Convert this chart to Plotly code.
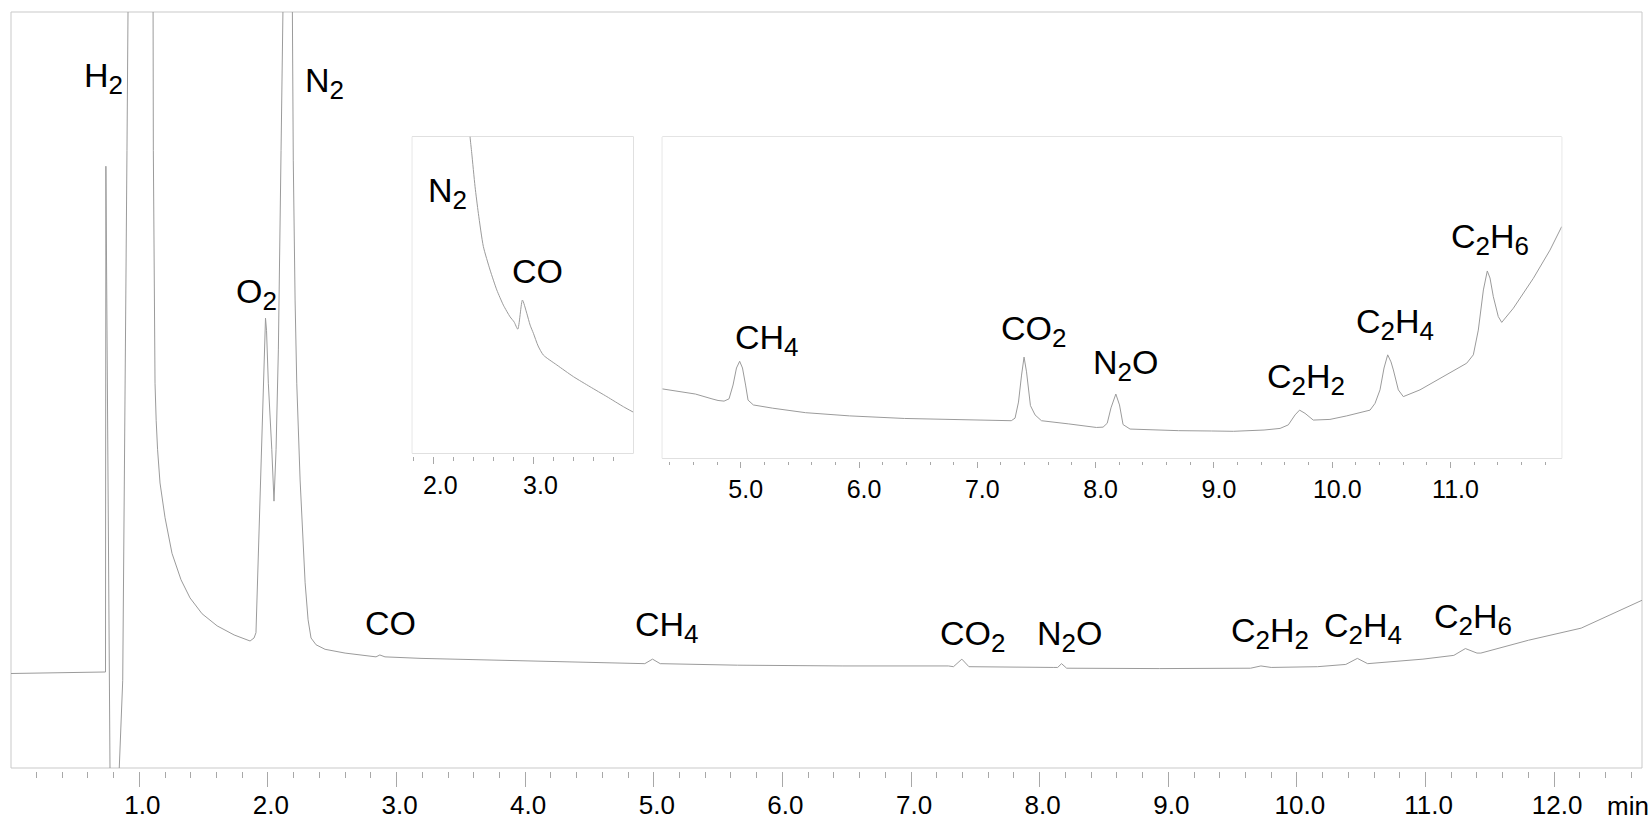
import plotly.graph_objects as go

# ---------------- data (retention time in min, detector signal in % of panel height) -------------
main_time = [0.0, 0.40, 0.737, 0.740, 0.753, 0.772, 0.79, 0.81, 0.844, 0.871, 0.904, 0.912, 1.005,
             1.107, 1.109, 1.122, 1.131, 1.142, 1.161, 1.180, 1.200, 1.254, 1.324, 1.394, 1.488, 1.605,
             1.737, 1.861,
             1.892, 1.907, 1.925, 1.946, 1.964, 1.977, 1.981, 1.989, 2.003, 2.030, 2.047, 2.063, 2.081,
             2.102, 2.110, 2.149, 2.190, 2.197, 2.211, 2.224, 2.250, 2.273, 2.289, 2.312, 2.335, 2.374,
             2.444, 2.60, 2.77, 2.84, 2.87, 2.91, 3.19, 4.02, 4.83, 4.93, 4.99, 5.05, 5.65, 6.47, 7.29,
             7.33, 7.395, 7.45, 8.11, 8.14, 8.17, 8.21, 8.93, 9.64, 9.72, 9.80, 10.16, 10.38, 10.47,
             10.55, 10.98, 11.22, 11.31, 11.40, 11.43, 11.80, 12.21, 12.685]
main_signal = [12.5, 12.6, 12.7, 79.6, 48.7, 0.0, -4.0, -6.0, 0.0, 11.6, 81.7, 100.0, 141.0,
               100.0, 81.7, 50.9, 46.0, 42.1, 37.7, 35.1, 33.1, 28.4, 24.9, 22.5, 20.4, 18.8,
               17.6, 16.8,
               17.2, 17.9, 27.5, 39.4, 50.9, 57.9, 59.5, 57.9, 50.9, 42.1, 35.3, 42.1, 55.3,
               81.7, 100.0, 141.0, 100.0, 80.4, 61.9, 50.9, 38.1, 28.8, 24.5, 19.6, 17.2, 16.3,
               15.7, 15.2, 14.8, 14.7, 14.95, 14.7, 14.5, 14.2, 13.9, 13.8, 14.4, 13.8, 13.6, 13.5, 13.5,
               13.4, 14.4, 13.4, 13.3, 13.3, 13.8, 13.2, 13.15, 13.2, 13.5, 13.3, 13.4, 13.7, 14.5,
               13.8, 14.4, 14.9, 15.8, 15.2, 15.2, 16.9, 18.5, 22.2]

inset1_time = [2.362, 2.367, 2.384, 2.417, 2.450, 2.500, 2.567, 2.634, 2.700, 2.767, 2.807, 2.844,
               2.890, 2.934, 2.967, 3.000, 3.047, 3.100, 3.234, 3.400, 3.567, 3.734, 3.900, 3.998]
inset1_signal = [103.7, 100.0, 94.8, 84.2, 75.8, 65.3, 57.9, 51.6, 46.8, 43.1, 41.5, 39.2,
                 48.4, 44.2, 40.5, 37.9, 33.9, 31.0, 27.9, 24.2, 21.0, 17.9, 14.7, 13.0]

inset2_time = [4.337, 4.487, 4.617, 4.757, 4.808, 4.859, 4.901, 4.935, 4.964, 4.991, 5.015, 5.041,
               5.062, 5.107, 5.270, 5.548, 5.919, 6.383, 6.846, 7.287, 7.319, 7.348, 7.374, 7.395,
               7.416, 7.449, 7.488, 7.542, 7.773, 8.006, 8.063, 8.098, 8.130, 8.171, 8.202, 8.232,
               8.291, 8.536, 8.702, 8.981, 9.165, 9.424, 9.559, 9.629, 9.686, 9.724, 9.770, 9.840,
               9.981, 10.123, 10.320, 10.362, 10.404, 10.438, 10.469, 10.497, 10.517, 10.559, 10.601,
               10.742, 10.968, 11.137, 11.193, 11.235, 11.278, 11.311, 11.334, 11.362, 11.404, 11.433,
               11.531, 11.700, 11.841, 11.940]
inset2_signal = [21.6, 20.8, 20.0, 18.5, 18.0, 17.8, 18.5, 22.8, 28.1, 30.2, 28.1, 22.8,
                 18.1, 16.6, 15.6, 14.2, 13.2, 12.4, 12.1, 11.7, 12.5, 17.5, 25.9, 31.5,
                 26.9, 16.4, 13.5, 11.7, 10.7, 9.6, 9.7, 10.9, 15.7, 20.0, 16.6, 10.5,
                 9.1, 8.8, 8.6, 8.5, 8.4, 8.8, 9.3, 10.4, 13.5, 15.0, 14.0, 11.9,
                 12.1, 13.2, 15.0, 17.1, 21.3, 28.1, 32.2, 30.0, 27.5, 21.3, 19.2,
                 21.3, 25.9, 29.6, 32.2, 39.9, 52.4, 58.3, 56.1, 50.3, 44.1, 42.3,
                 46.7, 56.0, 64.8, 72.1]

# peak labels: digits after "_" are subscripts
main_labels = ["H_2", "O_2", "N_2", "CO", "CH_4", "CO_2", "N_2O", "C_2H_2", "C_2H_4", "C_2H_6"]
main_label_t = [0.725, 1.913, 2.438, 2.956, 5.100, 7.479, 8.233, 9.789, 10.512, 11.371]
main_label_s = [91.3, 62.7, 90.6, 19.2, 18.6, 17.5, 17.5, 17.9, 18.5, 19.7]

inset1_labels = ["N_2", "CO"]
inset1_label_t = [2.146, 3.042]
inset1_label_s = [82.2, 57.6]

inset2_labels = ["CH_4", "CO_2", "N_2O", "C_2H_2", "C_2H_4", "C_2H_6"]
inset2_label_t = [5.222, 7.476, 8.249, 9.779, 10.527, 11.330]
inset2_label_s = [36.9, 39.7, 29.0, 24.7, 41.8, 68.3]

# ---------------- styling ----------------
W, H = 1652, 822
ML, MR, MT, MB = 11, 10, 12, 51
PW, PH = W - ML - MR, H - MT - MB
LABEL_SIZE = 34
SUB_SIZE = 26


def px_x(x):
    return (x - ML) / PW


def px_y(y):
    return (H - MB - y) / PH


def formula(s):
    out = ""
    i = 0
    while i < len(s):
        if s[i] == "_":
            out += "<sub><span style='font-size:%dpx'>%s</span></sub>" % (SUB_SIZE, s[i + 1])
            i += 2
        else:
            out += s[i]
            i += 1
    return out


TRACE = "#9b9b9b"
FRAME = "#c9c9c9"
TICK = "#a8a8a8"
FONT = "Liberation Sans, Arial, sans-serif"

fig = go.Figure()
fig.add_trace(go.Scatter(x=main_time, y=main_signal, mode="lines",
                         line=dict(color=TRACE, width=1), xaxis="x", yaxis="y", hoverinfo="skip"))
fig.add_trace(go.Scatter(x=inset1_time, y=inset1_signal, mode="lines",
                         line=dict(color=TRACE, width=1, shape="spline", smoothing=0.6),
                         xaxis="x2", yaxis="y2", hoverinfo="skip"))
fig.add_trace(go.Scatter(x=inset2_time, y=inset2_signal, mode="lines",
                         line=dict(color=TRACE, width=1), xaxis="x3", yaxis="y3", hoverinfo="skip"))

panels = {
    "main": dict(left=11, right=1642, top=12, bottom=768),
    "in1": dict(left=412.3, right=633.3, top=136.7, bottom=453.3),
    "in2": dict(left=662.3, right=1561.7, top=137, bottom=458.3),
}


def xaxis_cfg(p, rng, ticklen, minorlen, fontsize, shift, gap=3, standoff=0):
    return dict(domain=[px_x(p["left"]), px_x(p["right"])], range=rng, anchor="free",
                position=max(0.0, px_y(p["bottom"] + gap)), showline=False, showgrid=False,
                zeroline=False, automargin=False, ticks="outside", ticklen=ticklen,
                tickcolor=TICK, tickwidth=1,
                tickmode="linear", tick0=0, dtick=1, tickformat=".1f",
                tickfont=dict(family=FONT, size=fontsize, color="#000"),
                ticklabelshift=shift, ticklabelstandoff=standoff,
                minor=dict(ticks="outside", ticklen=minorlen, tickcolor=TICK, tickwidth=1,
                           dtick=0.2, tick0=0, showgrid=False))


def yaxis_cfg(p, xname):
    return dict(domain=[px_y(p["bottom"]), px_y(p["top"])], range=[0, 100], anchor=xname,
                visible=False, showgrid=False, zeroline=False, automargin=False)


fig.update_layout(
    width=W, height=H,
    margin=dict(l=ML, r=MR, t=MT, b=MB, pad=0, autoexpand=False),
    paper_bgcolor="white", plot_bgcolor="white", showlegend=False,
    xaxis=xaxis_cfg(panels["main"], [0.0023, 12.683], 15, 6, 26, 3, standoff=-4),
    yaxis=yaxis_cfg(panels["main"], "x"),
    xaxis2=xaxis_cfg(panels["in1"], [1.79, 3.998], 7, 4, 25, 7),
    yaxis2=yaxis_cfg(panels["in1"], "x2"),
    xaxis3=xaxis_cfg(panels["in2"], [4.337, 11.94], 6, 3, 25, 5, gap=2.4),
    yaxis3=yaxis_cfg(panels["in2"], "x3"),
)

shapes = []
for p in panels.values():
    shapes.append(dict(type="rect", xref="paper", yref="paper",
                       x0=px_x(p["left"]), x1=px_x(p["right"]),
                       y0=px_y(p["bottom"]), y1=px_y(p["top"]),
                       line=dict(color=FRAME, width=1), fillcolor="rgba(0,0,0,0)", layer="below"))
fig.update_layout(shapes=shapes)

annots = []


def add_labels(texts, ts, ss, xr, yr):
    for txt, t, s in zip(texts, ts, ss):
        annots.append(dict(text=formula(txt), x=t, y=s, xref=xr, yref=yr, showarrow=False,
                           xanchor="center", yanchor="middle",
                           font=dict(family=FONT, size=LABEL_SIZE, color="#000")))


add_labels(main_labels, main_label_t, main_label_s, "x", "y")
add_labels(inset1_labels, inset1_label_t, inset1_label_s, "x2", "y2")
add_labels(inset2_labels, inset2_label_t, inset2_label_s, "x3", "y3")

annots.append(dict(text="min", x=px_x(1627.5), y=px_y(806), xref="paper", yref="paper",
                   showarrow=False, xanchor="center", yanchor="middle",
                   font=dict(family=FONT, size=26, color="#000")))
fig.update_layout(annotations=annots)

fig.write_html("out.html")
